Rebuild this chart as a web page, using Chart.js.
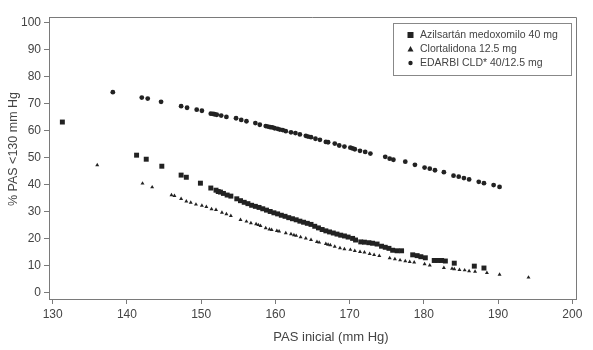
<!DOCTYPE html>
<html>
<head>
<meta charset="utf-8">
<script src="https://cdn.jsdelivr.net/npm/chart.js@4"></script>
<style>
  html, body { margin: 0; padding: 0; background: #fff; }
  #wrap { width: 593px; height: 350px; }
</style>
</head>
<body>
<div id="wrap"><canvas id="pasChart" width="593" height="350"></canvas></div>
<script>
// Series labels
const seriesLabels = ["Azilsartán medoxomilo 40 mg", "Clortalidona 12.5 mg", "EDARBI CLD* 40/12.5 mg"];

// Azilsartán medoxomilo 40 mg (squares)
const aziX = [131.3, 141.3, 142.6, 144.7, 147.3, 148.0, 149.9, 151.3, 152.0, 152.3, 152.6, 153.0, 153.5, 154.0, 154.8,
  155.3, 155.8, 156.3, 156.8, 157.3, 157.8, 158.3, 158.8, 159.3, 159.8, 160.3, 160.8, 161.3, 161.8, 162.3, 162.8,
  163.3, 163.8, 164.3, 164.8, 165.3, 165.8, 166.3, 166.8, 167.3, 167.8, 168.3, 168.8, 169.3, 169.8, 170.4, 170.8,
  171.5, 172.0, 172.6, 173.1, 173.7, 174.3, 174.8, 175.3, 175.8, 176.4, 177.0, 178.5, 179.1, 179.6, 180.2, 181.4,
  181.9, 182.4, 182.9, 184.1, 186.8, 188.1];
const aziY = [63.2, 50.9, 49.4, 46.8, 43.5, 42.7, 40.5, 38.7, 37.9, 37.4, 37.2, 36.7, 36.1, 35.7, 34.7,
  34.0, 33.4, 32.9, 32.3, 31.9, 31.5, 31.0, 30.5, 30.0, 29.5, 29.1, 28.6, 28.2, 27.7, 27.3, 26.9,
  26.4, 26.0, 25.6, 25.2, 24.5, 23.9, 23.3, 22.8, 22.4, 22.0, 21.6, 21.2, 20.9, 20.5, 20.0, 19.4,
  18.7, 18.6, 18.4, 18.2, 17.9, 17.1, 16.7, 16.3, 15.6, 15.4, 15.4, 13.9, 13.6, 13.2, 12.8, 11.8,
  11.8, 11.8, 11.6, 10.8, 9.7, 9.0];

// Clortalidona 12.5 mg (triangles)
const cloX = [136.0, 142.1, 143.4, 146.0, 146.4, 147.3, 148.0, 148.6, 149.3, 150.1, 150.7, 151.4, 152.0, 152.8, 153.4,
  154.0, 155.3, 156.1, 156.7, 157.4, 157.7, 158.0, 158.7, 159.2, 159.5, 160.2, 160.5, 161.4, 162.1, 162.5, 162.8,
  163.4, 164.1, 164.8, 165.6, 165.9, 166.8, 167.1, 167.4, 168.0, 168.7, 169.3, 170.1, 170.7, 171.4, 172.0, 172.7,
  173.3, 174.0, 175.4, 176.1, 176.8, 177.5, 178.1, 178.7, 180.1, 180.8, 182.7, 183.8, 184.1, 184.8, 185.5, 186.1,
  186.9, 188.5, 190.2, 194.1];
const cloY = [47.2, 40.4, 39.0, 36.1, 35.8, 34.7, 33.8, 33.3, 32.6, 32.2, 31.7, 30.9, 30.6, 29.6, 29.0,
  28.4, 26.9, 26.3, 25.7, 25.3, 25.0, 24.7, 23.8, 23.4, 23.2, 22.8, 22.6, 22.0, 21.6, 21.2, 21.0,
  20.5, 20.0, 19.5, 18.7, 18.5, 18.0, 17.7, 17.5, 17.0, 16.4, 16.0, 15.8, 15.4, 15.0, 14.8, 14.3,
  13.9, 13.5, 12.7, 12.3, 11.9, 11.6, 11.3, 11.1, 10.5, 10.0, 9.1, 8.8, 8.6, 8.3, 8.2, 7.9,
  7.7, 7.2, 6.6, 5.5];

// EDARBI CLD* 40/12.5 mg (circles)
const edaX = [138.1, 142.0, 142.8, 144.6, 147.3, 148.1, 149.4, 150.1, 151.3, 151.6, 151.8, 152.1, 152.7, 153.4, 154.7,
  155.4, 156.1, 157.3, 157.9, 158.7, 159.0, 159.3, 159.6, 159.9, 160.3, 160.6, 161.0, 161.4, 162.1, 162.7, 163.3,
  164.1, 164.4, 164.8, 165.4, 166.0, 166.8, 167.1, 168.0, 168.6, 169.3, 170.1, 170.4, 170.7, 171.4, 172.1, 172.8,
  174.8, 175.4, 175.9, 177.5, 178.8, 180.1, 180.8, 181.5, 182.7, 184.0, 184.7, 185.4, 186.1, 187.4, 188.1, 189.4,
  190.2];
const edaY = [74.3, 72.3, 71.9, 70.7, 69.1, 68.5, 67.8, 67.4, 66.3, 66.2, 66.1, 65.9, 65.6, 65.1, 64.6,
  64.0, 63.5, 62.8, 62.2, 61.7, 61.5, 61.3, 61.2, 60.9, 60.7, 60.4, 60.2, 59.8, 59.4, 59.1, 58.6,
  58.1, 57.8, 57.6, 57.0, 56.6, 55.8, 55.7, 55.2, 54.5, 54.1, 53.7, 53.4, 53.1, 52.5, 52.1, 51.5,
  50.3, 49.6, 49.2, 48.5, 47.3, 46.3, 45.9, 45.3, 44.6, 43.3, 42.9, 42.4, 41.9, 41.0, 40.5, 39.8,
  39.1];

// Tick labels
const xTicks = [130, 140, 150, 160, 170, 180, 190, 200];
const yTicks = [0, 10, 20, 30, 40, 50, 60, 70, 80, 90, 100];

const toPoints = (xs, ys) => xs.map((x, i) => ({ x: x, y: ys[i] }));

const axisColor = "#7a7a7a";
const textColor = "#444";
const markColor = "#222";
const fontFamily = "'Liberation Sans', Arial, sans-serif";

// frame, axis titles and boxed legend
const extrasPlugin = {
  id: "extras",
  afterDraw(chart) {
    const ctx = chart.ctx;
    const a = chart.chartArea;
    ctx.save();
    ctx.strokeStyle = axisColor;
    ctx.lineWidth = 1;
    ctx.beginPath();
    ctx.moveTo(a.left, a.top + 0.5);
    ctx.lineTo(a.right + 0.5, a.top + 0.5);
    ctx.lineTo(a.right + 0.5, a.bottom);
    ctx.stroke();

    // axis titles
    ctx.fillStyle = textColor;
    ctx.textAlign = "center";
    ctx.textBaseline = "middle";
    ctx.font = "13px " + fontFamily;
    ctx.fillText("PAS inicial (mm Hg)", 331, 337);
    ctx.font = "12.5px " + fontFamily;
    ctx.translate(14, 149);
    ctx.rotate(-Math.PI / 2);
    ctx.fillText("% PAS <130 mm Hg", 0, 0);
    ctx.restore();

    // legend box
    ctx.save();
    ctx.strokeStyle = "#888";
    ctx.lineWidth = 1;
    ctx.strokeRect(393.5, 23.5, 178, 52);
    ctx.font = "10.5px " + fontFamily;
    ctx.textAlign = "left";
    ctx.textBaseline = "middle";
    chart.data.datasets.forEach((ds, i) => {
      const y = 35 + i * 14;
      ctx.fillStyle = markColor;
      if (ds.pointStyle === "rect") {
        ctx.fillRect(407.5, y - 3, 6, 6);
      } else if (ds.pointStyle === "triangle") {
        ctx.beginPath();
        ctx.moveTo(410.5, y - 3);
        ctx.lineTo(413.5, y + 2.5);
        ctx.lineTo(407.5, y + 2.5);
        ctx.closePath();
        ctx.fill();
      } else {
        ctx.beginPath();
        ctx.arc(410.5, y, 2.2, 0, Math.PI * 2);
        ctx.fill();
      }
      ctx.fillStyle = textColor;
      ctx.fillText(ds.label, 420, y + 0.5);
    });
    ctx.restore();
  }
};

const pasCtx = document.getElementById("pasChart").getContext("2d");
new Chart(pasCtx, {
  type: "scatter",
  data: {
    datasets: [{
      label: seriesLabels[0],
      data: toPoints(aziX, aziY),
      pointStyle: "rect",
      pointRadius: 3.5,
      backgroundColor: markColor,
      borderColor: markColor,
      borderWidth: 0
    }, {
      label: seriesLabels[1],
      data: toPoints(cloX, cloY),
      pointStyle: "triangle",
      pointRadius: 2.3,
      backgroundColor: markColor,
      borderColor: markColor,
      borderWidth: 0
    }, {
      label: seriesLabels[2],
      data: toPoints(edaX, edaY),
      pointStyle: "circle",
      pointRadius: 2.4,
      backgroundColor: markColor,
      borderColor: markColor,
      borderWidth: 0
    }]
  },
  options: {
    responsive: false,
    animation: false,
    layout: { padding: { top: 17, right: 17, left: 0, bottom: 0 } },
    plugins: {
      legend: { display: false },
      tooltip: { enabled: false }
    },
    scales: {
      x: {
        type: "linear",
        min: 129.5,
        max: 200.5,
        afterBuildTicks: (scale) => { scale.ticks = xTicks.map(v => ({ value: v })); },
        afterFit: (scale) => { scale.height = 51; },
        grid: { drawOnChartArea: false, drawTicks: true, tickLength: 5, color: axisColor },
        border: { display: true, color: axisColor },
        ticks: { color: textColor, font: { size: 12, family: fontFamily }, padding: 3, maxRotation: 0 }
      },
      y: {
        type: "linear",
        min: -2.5,
        max: 102.2,
        afterBuildTicks: (scale) => { scale.ticks = yTicks.map(v => ({ value: v })); },
        afterFit: (scale) => { scale.width = 49; },
        grid: { drawOnChartArea: false, drawTicks: true, tickLength: 5, color: axisColor },
        border: { display: true, color: axisColor },
        ticks: { color: textColor, font: { size: 12, family: fontFamily }, padding: 3 }
      }
    }
  },
  plugins: [extrasPlugin]
});
</script>
</body>
</html>
